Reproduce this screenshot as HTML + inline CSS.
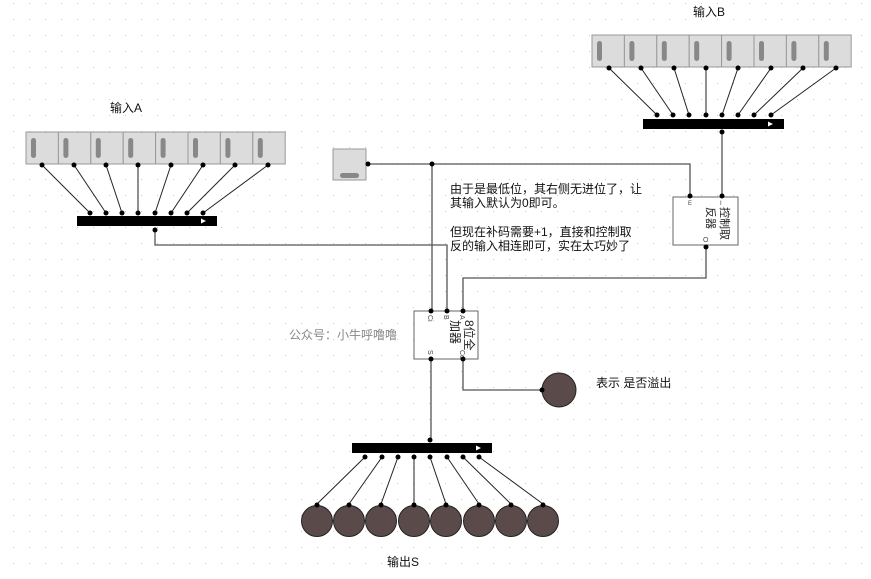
<!DOCTYPE html>
<html><head><meta charset="utf-8"><style>
body{margin:0;background:#fff}
svg text{font-family:"Liberation Sans","Noto Sans CJK SC",sans-serif}
</style></head><body>
<svg width="871" height="574" xmlns="http://www.w3.org/2000/svg">
<defs>
<pattern id="g" x="13" y="3" width="16" height="16" patternUnits="userSpaceOnUse"><rect x="0" y="0" width="1" height="1" fill="#c8c8c8"/></pattern>
<g id="sw"><rect x="0" y="0" width="32.4" height="32" fill="#dcdcdc" stroke="#999" stroke-width="1"/><rect x="5" y="6" width="5" height="20" rx="2.5" fill="#888"/></g>
</defs>
<rect width="871" height="574" fill="url(#g)"/>
<g stroke="#222" stroke-width="1" fill="none">
<!-- input A lines -->
<line x1="42" y1="165" x2="90" y2="213"/><line x1="74" y1="165" x2="106" y2="213"/><line x1="106" y1="165" x2="122" y2="213"/><line x1="138" y1="165" x2="138" y2="213"/><line x1="171" y1="165" x2="155" y2="213"/><line x1="203" y1="165" x2="171" y2="213"/><line x1="235" y1="165" x2="187" y2="213"/><line x1="268" y1="165" x2="203" y2="213"/>
<!-- input B lines -->
<line x1="609" y1="68" x2="657" y2="115"/><line x1="641" y1="68" x2="673" y2="115"/><line x1="674" y1="68" x2="689" y2="115"/><line x1="706" y1="68" x2="706" y2="115"/><line x1="738" y1="68" x2="722" y2="115"/><line x1="771" y1="68" x2="738" y2="115"/><line x1="803" y1="68" x2="754" y2="115"/><line x1="836" y1="68" x2="771" y2="115"/>
<!-- output lines -->
<line x1="365" y1="457" x2="317" y2="504"/><line x1="382" y1="457" x2="349" y2="504"/><line x1="398" y1="457" x2="381" y2="504"/><line x1="414" y1="457" x2="414" y2="504"/><line x1="430" y1="457" x2="446" y2="504"/><line x1="447" y1="457" x2="479" y2="504"/><line x1="463" y1="457" x2="511" y2="504"/><line x1="479" y1="457" x2="543" y2="504"/>
</g>
<g stroke="#555" stroke-width="1.3" fill="none">
<polyline points="368,164 690,164 690,197"/>
<line x1="432" y1="164" x2="432" y2="311"/>
<polyline points="722,132 722,197"/>
<polyline points="155,232 155,245 447,245 447,311"/>
<polyline points="706,247 706,278 463,278 463,311"/>
<polyline points="431,359 431,440"/>
<polyline points="463,359 463,390 542,390"/>
</g>
<!-- switches A -->
<g transform="translate(26,132)"><use href="#sw"/><use href="#sw" x="32.4"/><use href="#sw" x="64.8"/><use href="#sw" x="97.2"/><use href="#sw" x="129.6"/><use href="#sw" x="162"/><use href="#sw" x="194.4"/><use href="#sw" x="226.8"/></g>
<g transform="translate(592,35)"><use href="#sw"/><use href="#sw" x="32.4"/><use href="#sw" x="64.8"/><use href="#sw" x="97.2"/><use href="#sw" x="129.6"/><use href="#sw" x="162"/><use href="#sw" x="194.4"/><use href="#sw" x="226.8"/></g>
<!-- bars -->
<rect x="77" y="216" width="140" height="10" fill="#000"/><polygon points="201,218.5 206,221 201,223.5" fill="#fff"/>
<rect x="643" y="119" width="141" height="10" fill="#000"/><polygon points="768,121.5 773,124 768,126.5" fill="#fff"/>
<rect x="352" y="443" width="140" height="10" fill="#000"/><polygon points="476,445.5 481,448 476,450.5" fill="#fff"/>
<!-- constant -->
<rect x="333" y="149" width="33" height="31" fill="#dcdcdc" stroke="#999"/><rect x="340" y="173" width="19" height="5" rx="2.5" fill="#888"/>
<!-- inverter -->
<rect x="673" y="197" width="65" height="48" fill="#fff" stroke="#666"/>
<text x="688" y="205" font-size="6" fill="#444">E</text><text x="720" y="205" font-size="6" fill="#444">I</text>
<text x="703" y="242" font-size="7" fill="#444">O</text>
<text transform="translate(721,207) rotate(90)" font-size="11" fill="#222">控制取</text>
<text transform="translate(707,207) rotate(90)" font-size="11" fill="#222">反器</text>
<!-- adder -->
<rect x="414" y="311" width="64" height="48" fill="#fff" stroke="#666"/>
<text transform="translate(428,315) rotate(90)" font-size="7" fill="#444">Ci</text>
<text transform="translate(444,315) rotate(90)" font-size="7" fill="#444">B</text>
<text transform="translate(460,315) rotate(90)" font-size="7" fill="#444">A</text>
<text transform="translate(428,350) rotate(90)" font-size="7" fill="#444">S</text>
<text transform="translate(460,350) rotate(90)" font-size="7" fill="#444">Co</text>
<text transform="translate(465,320) rotate(90)" font-size="12" fill="#222">8位全</text>
<text transform="translate(451,320) rotate(90)" font-size="12" fill="#222">加器</text>
<!-- outputs -->
<g fill="#5a4a4a" stroke="#222" stroke-width="1">
<circle cx="317" cy="521" r="15.5"/><circle cx="349" cy="521" r="15.5"/><circle cx="381" cy="521" r="15.5"/><circle cx="414" cy="521" r="15.5"/><circle cx="446" cy="521" r="15.5"/><circle cx="479" cy="521" r="15.5"/><circle cx="511" cy="521" r="15.5"/><circle cx="543" cy="521" r="15.5"/>
<circle cx="559" cy="390" r="17"/>
</g>
<!-- dots -->
<g fill="#000">
<circle cx="42" cy="165" r="2.5"/><circle cx="74" cy="165" r="2.5"/><circle cx="106" cy="165" r="2.5"/><circle cx="138" cy="165" r="2.5"/><circle cx="171" cy="165" r="2.5"/><circle cx="203" cy="165" r="2.5"/><circle cx="235" cy="165" r="2.5"/><circle cx="268" cy="165" r="2.5"/>
<circle cx="90" cy="213" r="2.5"/><circle cx="106" cy="213" r="2.5"/><circle cx="122" cy="213" r="2.5"/><circle cx="138" cy="213" r="2.5"/><circle cx="155" cy="213" r="2.5"/><circle cx="171" cy="213" r="2.5"/><circle cx="187" cy="213" r="2.5"/><circle cx="203" cy="213" r="2.5"/><circle cx="155" cy="230" r="2.5"/>
<circle cx="609" cy="68" r="2.5"/><circle cx="641" cy="68" r="2.5"/><circle cx="674" cy="68" r="2.5"/><circle cx="706" cy="68" r="2.5"/><circle cx="738" cy="68" r="2.5"/><circle cx="771" cy="68" r="2.5"/><circle cx="803" cy="68" r="2.5"/><circle cx="836" cy="68" r="2.5"/>
<circle cx="657" cy="115" r="2.5"/><circle cx="673" cy="115" r="2.5"/><circle cx="689" cy="115" r="2.5"/><circle cx="706" cy="115" r="2.5"/><circle cx="722" cy="115" r="2.5"/><circle cx="738" cy="115" r="2.5"/><circle cx="754" cy="115" r="2.5"/><circle cx="771" cy="115" r="2.5"/><circle cx="722" cy="132" r="2.5"/>
<circle cx="430" cy="440" r="2.5"/>
<circle cx="365" cy="457" r="2.5"/><circle cx="382" cy="457" r="2.5"/><circle cx="398" cy="457" r="2.5"/><circle cx="414" cy="457" r="2.5"/><circle cx="430" cy="457" r="2.5"/><circle cx="447" cy="457" r="2.5"/><circle cx="463" cy="457" r="2.5"/><circle cx="479" cy="457" r="2.5"/>
<circle cx="317" cy="505" r="2.5"/><circle cx="349" cy="505" r="2.5"/><circle cx="381" cy="505" r="2.5"/><circle cx="414" cy="505" r="2.5"/><circle cx="446" cy="505" r="2.5"/><circle cx="479" cy="505" r="2.5"/><circle cx="511" cy="505" r="2.5"/><circle cx="543" cy="505" r="2.5"/>
<circle cx="368" cy="164" r="2.5"/><circle cx="432" cy="164" r="2.5"/>
<circle cx="690" cy="196" r="2.5"/><circle cx="722" cy="196" r="2.5"/><circle cx="706" cy="247" r="2.5"/>
<circle cx="431" cy="311" r="2.5"/><circle cx="447" cy="311" r="2.5"/><circle cx="463" cy="311" r="2.5"/>
<circle cx="431" cy="359" r="2.5"/><circle cx="463" cy="359" r="2.5"/><circle cx="542" cy="390" r="2.5"/>
</g>
<!-- texts -->
<g font-size="12" fill="#111">
<text x="110" y="112">输入A</text>
<text x="693" y="16">输入B</text>
<text x="387" y="566">输出S</text>
<text x="450" y="193">由于是最低位，其右侧无进位了，让</text>
<text x="450" y="207">其输入默认为0即可。</text>
<text x="450" y="236">但现在补码需要+1，直接和控制取</text>
<text x="450" y="250">反的输入相连即可，实在太巧妙了</text>
<text x="596" y="387">表示 是否溢出</text>
<text x="289" y="339" fill="#888">公众号：小牛呼噜噜</text>
</g>
</svg>
</body></html>
